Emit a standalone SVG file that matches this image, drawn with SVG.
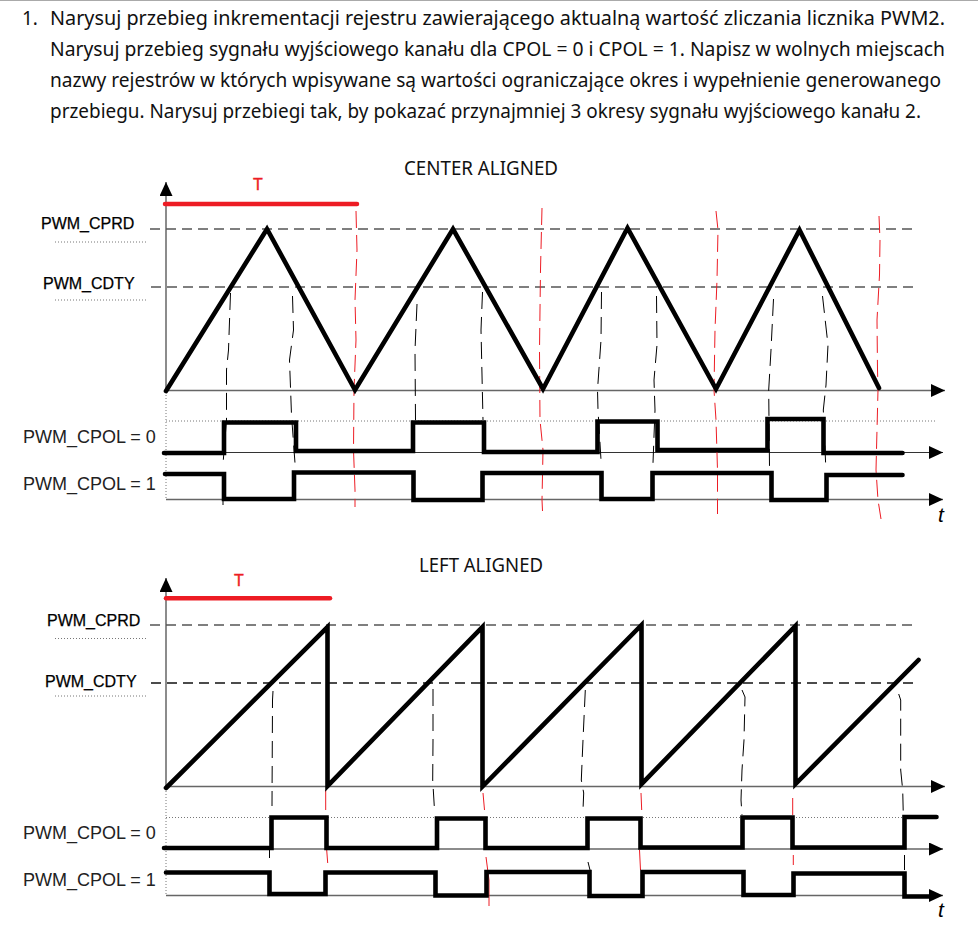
<svg xmlns="http://www.w3.org/2000/svg" width="978" height="925" viewBox="0 0 978 925">
<defs>
<marker id="arr" markerUnits="userSpaceOnUse" markerWidth="15" markerHeight="13" refX="14" refY="6.5" orient="auto"><path d="M0,0L14,6.5L0,13Z" fill="#000"/></marker>
</defs>
<style>
.q{font-family:"Noto Sans","Open Sans",sans-serif;font-size:19px;fill:#111}
.ti{font-family:"Noto Sans","Open Sans",sans-serif;font-size:19px;fill:#111}
.reg{font-family:"Liberation Sans",Arial,sans-serif;font-size:16px;fill:#000;stroke:#000;stroke-width:.25}
.pol{font-family:"Liberation Sans",Arial,sans-serif;font-size:18px;fill:#222}
.t{font-family:"Liberation Sans",Arial,sans-serif;font-size:21px;font-style:italic;fill:#000}
.T{font-family:"Liberation Sans",Arial,sans-serif;font-size:16px;fill:#ed1c24;stroke:#ed1c24;stroke-width:.4}
.ax{fill:none;stroke:#666;stroke-width:1.5}
.ax2{fill:none;stroke:#333;stroke-width:1}
.lvl{fill:none;stroke:#555;stroke-width:1.5;stroke-dasharray:10 6}
.dot{fill:none;stroke:#777;stroke-width:1;stroke-dasharray:1 2}
.w{fill:none;stroke:#000;stroke-width:4.6;stroke-linecap:round;stroke-linejoin:miter}
.bar{fill:none;stroke:#ed1c24;stroke-width:4.5;stroke-linecap:round}
.rd{fill:none;stroke:#ed1c24;stroke-width:1;stroke-dasharray:17 7}
.bd{fill:none;stroke:#000;stroke-width:1;stroke-dasharray:17 8}
.rs{fill:none;stroke:#ed1c24;stroke-width:1}
</style>
<rect width="978" height="925" fill="#fff"/>
<path d="M0,0.5H978" stroke="#aaa" stroke-width="1"/>
<g id="question">
<text class="q" x="22" y="25">1.</text>
<text class="q" x="50" y="25" textLength="895" lengthAdjust="spacingAndGlyphs">Narysuj  przebieg  inkrementacji  rejestru  zawierającego  aktualną  wartość  zliczania  licznika  PWM2.</text>
<text class="q" x="50" y="56" textLength="895" lengthAdjust="spacingAndGlyphs">Narysuj przebieg sygnału wyjściowego kanału dla CPOL = 0 i CPOL = 1. Napisz w wolnych miejscach</text>
<text class="q" x="50" y="87" textLength="891" lengthAdjust="spacingAndGlyphs">nazwy rejestrów w których wpisywane są wartości ograniczające okres i wypełnienie generowanego</text>
<text class="q" x="50" y="118" textLength="871" lengthAdjust="spacingAndGlyphs">przebiegu. Narysuj przebiegi tak, by pokazać przynajmniej 3 okresy sygnału wyjściowego kanału 2.</text>
</g>
<g id="center-labels">
<text class="ti" x="404" y="175" textLength="154" lengthAdjust="spacingAndGlyphs">CENTER ALIGNED</text>
<text class="T" x="258" y="190" text-anchor="middle">T</text>
<text class="reg" x="41" y="229">PWM_CPRD</text>
<text class="reg" x="43" y="289">PWM_CDTY</text>
<text class="pol" x="23" y="443">PWM_CPOL = 0</text>
<text class="pol" x="23" y="490">PWM_CPOL = 1</text>
<text class="t" x="938" y="522">t</text>
</g>
<g id="center-axes">
<path class="ax" d="M166,391V182" marker-end="url(#arr)"/>
<path class="ax" d="M166,390.5H945" marker-end="url(#arr)"/>
<path class="ax2" d="M166,452.5H943" marker-end="url(#arr)"/>
<path class="ax" d="M166,499.5H943" marker-end="url(#arr)"/>
<path class="lvl" d="M150,229H915M151,287H915"/>
<path class="dot" d="M55,242H146M55,300H147M166,392V500M166,421H935"/>
</g>
<g id="center-guides">
<path class="rd" d="M356,211L357,250L355,300L356,340L354,390L353.500,450L355,490L355,507"/>
<path class="rd" d="M542,208L540.500,270L539.500,350L540,420L543,450L542,500L542.500,511"/>
<path class="rd" d="M716,211L718,230L717,280L715,330L714,390L716,420L717.500,470L717.500,514"/>
<path class="rd" d="M879,216L880,240L879.500,275L877,320L877.500,370L878,390L877,430L876,470L878,500L881,519"/>
<path class="bd" d="M230.500,293L228.500,350L226.500,370L226.500,420L223,464M223,495V505"/>
<path class="bd" d="M292.500,296L293.500,330L289.500,360L291.500,415L295,463"/>
<path class="bd" d="M417,304L415,350L415.500,420"/>
<path class="bd" d="M482.500,292L481,330L482,375L483,420"/>
<path class="bd" d="M601.500,292L601,340L597.500,390L598,410L601,460"/>
<path class="bd" d="M656.500,296L657,345L654,380L655,410L653,463"/>
<path class="bd" d="M773.500,299L771,350L768.700,390L769,420L769.500,466"/>
<path class="bd" d="M822.500,296L828,345L826,385L823.300,410L825.700,465"/>
</g>
<g id="center-waves">
<path class="bar" d="M165,204H357"/>
<path class="w" d="M166,391L267,229L355,390L453,229L543,389L627.500,228L716,389L799.500,230L879,388"/>
<path class="w" d="M164,453H224V422.500H296V451H413V422.500H484V452H597.500V421.500H657.500V450H767.500V419H823.500V453H902.500"/>
<path class="w" d="M165,474H224V499H294V472.500H413.500V500H482.500V473H601.500V499H652.500V473H771.500V500H826.500V475H902.500"/>
</g>
<g id="left-labels">
<text class="ti" x="419" y="571.500" textLength="124" lengthAdjust="spacingAndGlyphs">LEFT ALIGNED</text>
<text class="T" x="239" y="586" text-anchor="middle">T</text>
<text class="reg" x="47" y="626">PWM_CPRD</text>
<text class="reg" x="45" y="687">PWM_CDTY</text>
<text class="pol" x="23" y="839">PWM_CPOL = 0</text>
<text class="pol" x="23" y="886">PWM_CPOL = 1</text>
<text class="t" x="938" y="917">t</text>
</g>
<g id="left-axes">
<path class="ax" d="M166,788V578" marker-end="url(#arr)"/>
<path class="ax" d="M166,786.500H945" marker-end="url(#arr)"/>
<path class="ax" d="M166,849H943" marker-end="url(#arr)"/>
<path class="ax" d="M166,895.500H943" marker-end="url(#arr)"/>
<path class="lvl" d="M150,625H915"/>
<path class="lvl" style="stroke:#111" d="M151,683H915"/>
<path class="dot" d="M55,638.500H146M55,696H147M166,788V896M166,817.500H905"/>
</g>
<g id="left-guides">
<path class="rs" d="M325.700,790V810M326.700,850L327.700,863M483,793L484.500,810M486,857L489,880V906M641,793L641.700,810M639.500,850L640.500,870M792.700,798V815M793.300,855V865"/>
<path class="bd" d="M273,691L272.500,700L272,806M269.500,850V858"/>
<path class="bd" d="M433,689V740L432.700,780L434.500,810"/>
<path class="bd" d="M585.300,690L583,740L581.300,780L583.700,793L583,810M588,862L590,870"/>
<path class="bd" d="M742,690L745,697L744,740L742,770L741,800L742,815"/>
<path class="bd" d="M898.700,694L900.700,700V770L902.700,790L903.300,815M904.500,855V870"/>
</g>
<g id="left-waves">
<path class="bar" d="M166,598.300H330"/>
<path class="w" d="M166,788L327.500,627V786L482.500,627V786.500L641.500,625V784L795.500,626V784L918.500,660"/>
<path class="w" d="M164,848H271.500V817.500H326.500V848H437V818.500H485.500V848H587.500V818.500H640.500V847.500H742.500V817.500H792.500V847.500H904.500V817H936.500"/>
<path class="w" d="M166,872.500H269.500V894H325.500V872.500H435.500V895.500H486.500V872H589.500V896H642.500V872H743.500V895H793.500V873.500H904.500V896.500H930"/>
</g>
</svg>
